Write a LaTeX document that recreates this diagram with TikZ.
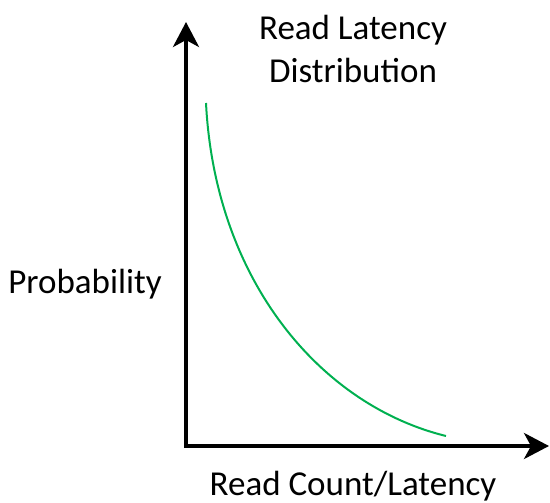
\documentclass[tikz,border=0pt]{standalone}
\usepackage{fontspec}
\setmainfont{Carlito}
\usetikzlibrary{arrows.meta}
\definecolor{curvegreen}{RGB}{0,176,80}
\begin{document}
\begin{tikzpicture}[x=1pt,y=-1pt,
  axis/.style={line width=3.6pt,-{Stealth[length=25pt,width=26pt,inset=7pt]}},
  lbl/.style={font=\fontsize{35}{43}\selectfont,align=center,inner sep=0pt},
  curve/.style={curvegreen,line width=2pt}]
\useasboundingbox (0,0) rectangle (550,503);
\coordinate (origin) at (186,446);
\coordinate (ytip) at (186,22);
\coordinate (xtip) at (549,446);
\coordinate (cstart) at (206,103);
\coordinate (cend) at (446,436);
\draw[axis] ([yshift=-1.8pt]origin) -- (ytip);
\draw[axis] ([xshift=-1.8pt]origin) -- (xtip);
\draw[curve] (cstart) .. controls (215,280) and (320,405) .. (cend);
\node[lbl] (title) at (353,49) {Read Latency\\Distribution};
\node[lbl] (ylab) at (85,284) {Probability};
\node[lbl] (xlab) at (353,486) {Read Count/Latency};
\end{tikzpicture}
\end{document}
